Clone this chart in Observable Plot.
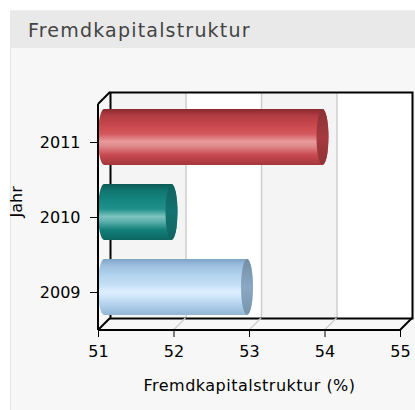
<!DOCTYPE html>
<html><head><meta charset="utf-8">
<script src="https://cdn.jsdelivr.net/npm/d3@7"></script>
<script src="https://cdn.jsdelivr.net/npm/@observablehq/plot@0.6"></script>
<style>
html,body{margin:0;padding:0;background:#fff;width:415px;height:410px;overflow:hidden}
#panel{position:absolute;left:10px;top:10px;width:405px;height:400px;background:#f7f7f7;border-left:1px solid #e6e6e6;box-sizing:border-box}
#hdr{position:absolute;left:10px;top:10px;width:405px;height:38px;background:#e9e9e9;font-family:"DejaVu Sans";font-size:19px;color:#444;line-height:38px;padding-left:18px;box-sizing:border-box;letter-spacing:1.2px;border-top:1px solid #f0f0f0}
#chart{position:absolute;left:0;top:48px}
</style></head><body>
<div id="panel"></div>
<div id="hdr"></div>
<div id="chart"></div>
<script>
// ---- data ----
const title = "Fremdkapitalstruktur";
const years = ["2011", "2010", "2009"];
const values = [54, 52, 53];
const xTicks = [51, 52, 53, 54, 55];
const xLabel = "Fremdkapitalstruktur (%)";
const yLabel = "Jahr";

// ---- styles ----
const barGradients = {
  "2011": {id: "gRed", stops: ["#872a2e", "#b23c42", "#c9484d", "#d45a5f", "#e89a9c", "#e08a8d", "#c84a4f", "#a3363b"], cap: "#a53a3f"},
  "2010": {id: "gTeal", stops: ["#0b5a56", "#10766f", "#168781", "#23918b", "#7cc3bf", "#61b2ad", "#13807a", "#0d6560"], cap: "#137370"},
  "2009": {id: "gBlue", stops: ["#7ea4c6", "#9dc0e0", "#b4d4ef", "#c4def5", "#ddeffe", "#d2e8fb", "#b0d0ec", "#93b6d6"], cap: "#8aa9c5"}
};
const stopOffsets = [0, 0.12, 0.3, 0.45, 0.58, 0.66, 0.82, 1];
const D = 12; // depth offset

document.getElementById("hdr").textContent = title;

const data = years.map((y, i) => ({year: y, value: values[i]}));
const bands = xTicks.slice(0, -1).map((t, i) => ({a: t, b: xTicks[i + 1], k: i}));

function frameLines(index, scales, vals, dims) {
  const x = scales.x;
  const bottom = dims.height - dims.marginBottom;
  const g = d3.create("svg:g");
  xTicks.forEach((t, i) => {
    const edge = i === 0 || i === xTicks.length - 1;
    g.append("line")
      .attr("x1", x(t)).attr("y1", bottom)
      .attr("x2", x(t) + D).attr("y2", bottom - D)
      .attr("stroke", edge ? "#000" : "#cfcfcf")
      .attr("stroke-width", edge ? 2 : 1.5);
  });
  return g.node();
}
function wallLines(index, scales, vals, dims) {
  const x = scales.x;
  const top = dims.marginTop, bottom = dims.height - dims.marginBottom;
  const g = d3.create("svg:g").attr("stroke", "#000").attr("stroke-width", 2);
  g.append("line").attr("x1", x(xTicks[0])).attr("y1", top).attr("x2", x(xTicks[0]) + D).attr("y2", top - D);
  g.append("line").attr("x1", x(xTicks[0])).attr("y1", top).attr("x2", x(xTicks[0])).attr("y2", bottom);
  g.append("line").attr("x1", x(xTicks[0])).attr("y1", bottom).attr("x2", x(xTicks[xTicks.length - 1])).attr("y2", bottom);
  return g.node();
}

const barMarks = [];
for (const d of data) {
  const gr = barGradients[d.year];
  barMarks.push(Plot.barX([d], {x1: xTicks[0], x2: "value", y: "year", insetRight: -4, rx: 6, ry: 40, fill: `url(#${gr.id})`, dy: -5}));
  barMarks.push(Plot.barX([d], {x1: "value", x2: "value", y: "year", insetLeft: -8, insetRight: -4, rx: 6, ry: 40, fill: `url(#${gr.id}c)`, dy: -5}));
}

const chart = Plot.plot({
  width: 415,
  height: 362,
  marginLeft: 98,
  marginRight: 15,
  marginTop: 56,
  marginBottom: 80,
  style: {fontFamily: "DejaVu Sans", fontSize: "16px", color: "#000", background: "transparent", overflow: "visible"},
  x: {domain: [xTicks[0], xTicks[xTicks.length - 1]]},
  y: {domain: years, paddingInner: 0.26, paddingOuter: 0.13},
  marks: [
    Plot.rect(bands, {x1: "a", x2: "b", fill: d => d.k % 2 === 0 ? "#f4f4f4" : "#ffffff", dx: D, dy: -D}),
    Plot.ruleX(xTicks.slice(1, -1), {stroke: "#cccccc", strokeWidth: 1.5, dx: D, dy: -D}),
    Plot.frame({stroke: "#000", strokeWidth: 2, dx: D, dy: -D}),
    frameLines,
    ...barMarks,
    wallLines,
    Plot.axisY({tickSize: 8, tickPadding: 10, label: null, fontSize: 16}),
    Plot.axisX({ticks: xTicks, tickSize: 7, tickPadding: 8, tickFormat: d => String(d), label: null, fontSize: 16}),
    Plot.text([xLabel], {text: d => d, frameAnchor: "bottom", dy: 55, fontSize: 16, lineAnchor: "middle"}),
    Plot.text([yLabel], {text: d => d, frameAnchor: "left", dx: -82, rotate: -90, fontSize: 16, lineAnchor: "middle"})
  ]
});

// gradients for the cylinders
const defs = d3.select(chart).insert("defs", ":first-child");
for (const key of years) {
  const gr = barGradients[key];
  const lg = defs.append("linearGradient").attr("id", gr.id).attr("x1", 0).attr("y1", 0).attr("x2", 0).attr("y2", 1);
  gr.stops.forEach((c, i) => lg.append("stop").attr("offset", stopOffsets[i]).attr("stop-color", c));
  const cap = d3.color(gr.cap);
  const lc = defs.append("linearGradient").attr("id", gr.id + "c").attr("x1", 0).attr("y1", 0).attr("x2", 0).attr("y2", 1);
  lc.append("stop").attr("offset", 0).attr("stop-color", cap.darker(0.5).formatHex());
  lc.append("stop").attr("offset", 0.5).attr("stop-color", cap.formatHex());
  lc.append("stop").attr("offset", 1).attr("stop-color", cap.darker(0.4).formatHex());
}
d3.select(chart).selectAll("text").filter(function() { return this.textContent === xLabel; }).style("letter-spacing", "0.5px");
document.getElementById("chart").appendChild(chart);
</script>
</body></html>
